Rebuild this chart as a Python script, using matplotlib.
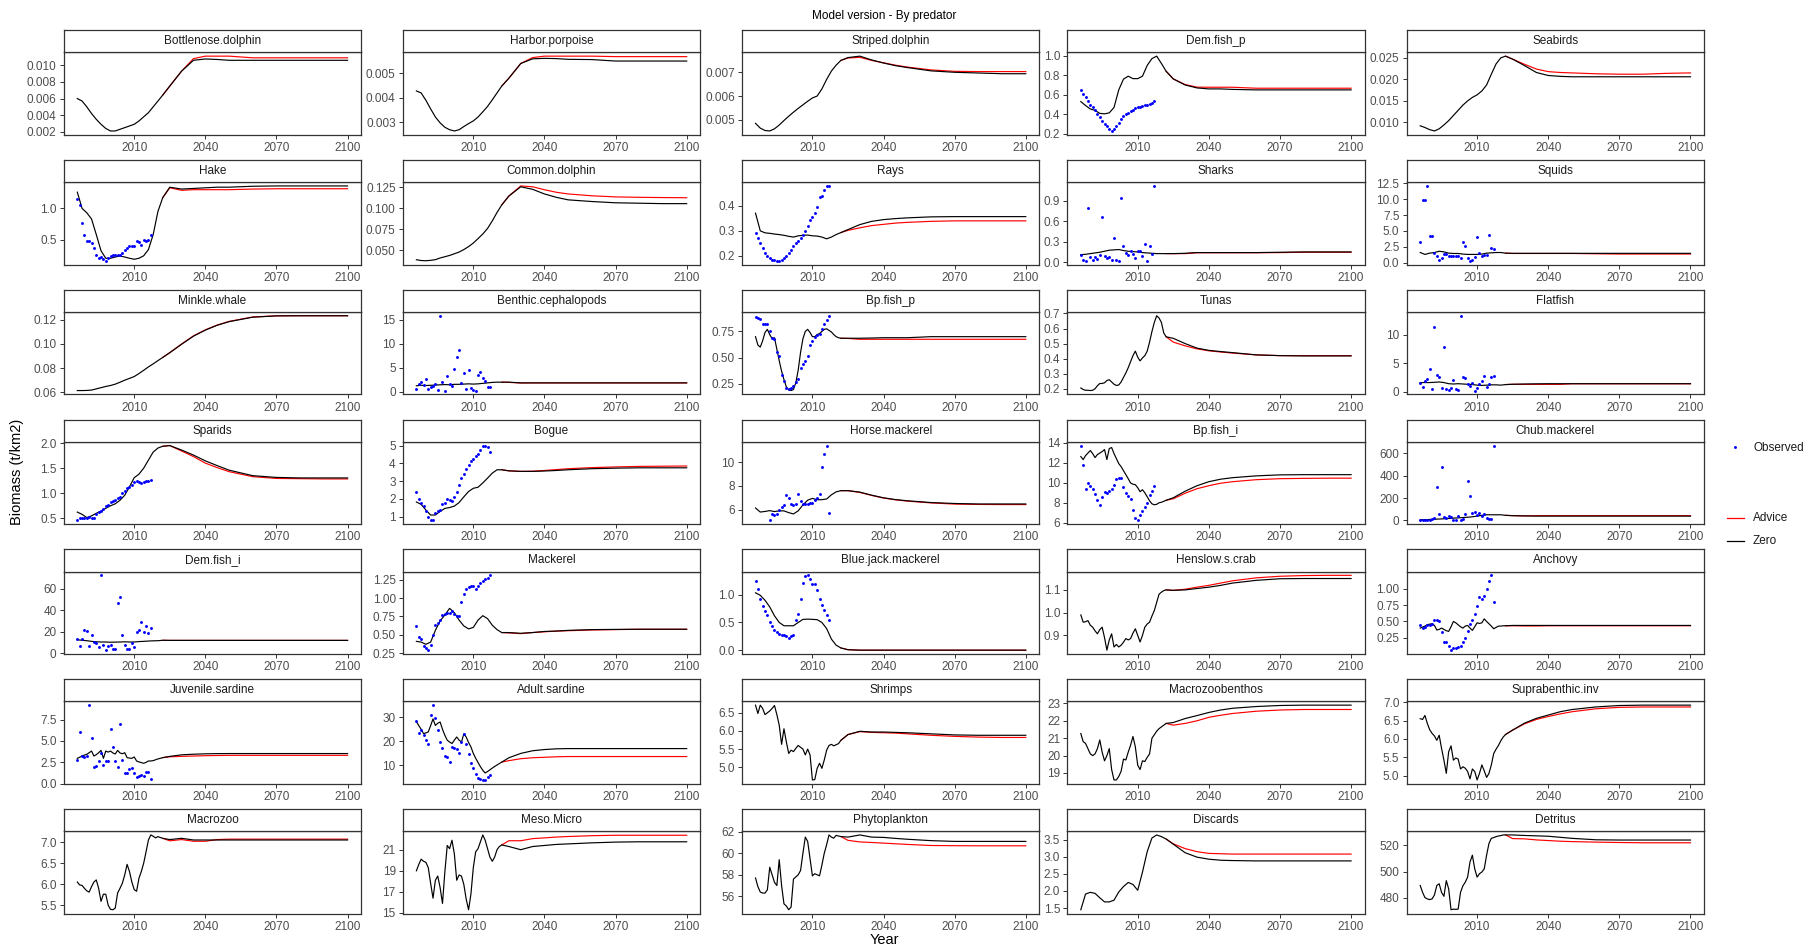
import matplotlib
matplotlib.use("Agg")
import matplotlib.pyplot as plt
from matplotlib.lines import Line2D

plt.rcParams["font.family"] = ["Liberation Sans", "DejaVu Sans"]

# ---------------------------------------------------------------- time axes
HIST_1 = list(range(1986, 2023))          # yearly model output
HIST_2 = list(range(1986, 2023, 2))       # two-yearly model output
PROJ = [2025, 2030, 2035, 2040, 2045, 2050, 2060, 2070, 2080, 2090, 2100]
OBS = list(range(1986, 2018))
OBS_HORSE = list(range(1992, 2018))
X_TICKS = [2010, 2040, 2070, 2100]

# ---------------------------------------------------------------- group data
bottlenose_hist = [0.0060, 0.0057, 0.0050, 0.0042, 0.0035, 0.0029, 0.0024, 0.0021, 0.0021, 0.0023,
                   0.0025, 0.0027, 0.0029, 0.0033, 0.0038, 0.0043, 0.0050, 0.0057, 0.0064]
bottlenose_zero = [0.0075, 0.0093, 0.0106, 0.01076, 0.0107, 0.0106, 0.0106, 0.0106, 0.0106, 0.0106, 0.0106]
bottlenose_advice = [0.0075, 0.0093, 0.0108, 0.0111, 0.0111, 0.0111, 0.0109, 0.0109, 0.0109, 0.0109, 0.0109]

harbor_hist = [0.00428, 0.00420, 0.00390, 0.00355, 0.00322, 0.00298, 0.00280, 0.00270, 0.00265, 0.00270,
               0.00283, 0.00295, 0.00306, 0.00322, 0.00343, 0.00365, 0.00392, 0.00420, 0.00448]
harbor_zero = [0.0048, 0.0054, 0.00559, 0.00561, 0.0056, 0.00557, 0.00556, 0.0055, 0.0055, 0.0055, 0.0055]
harbor_advice = [0.0048, 0.0054, 0.00564, 0.0057, 0.0057, 0.0057, 0.0057, 0.00568, 0.00568, 0.00568, 0.00568]

striped_hist = [0.00485, 0.00465, 0.00455, 0.00453, 0.00462, 0.00478, 0.00497, 0.00515, 0.00532, 0.00548,
                0.00563, 0.00578, 0.00592, 0.00600, 0.00630, 0.00670, 0.00705, 0.00730, 0.00750]
striped_zero = [0.00762, 0.00768, 0.00752, 0.00739, 0.00728, 0.0072, 0.00706, 0.0070, 0.00697, 0.00694, 0.00694]
striped_advice = [0.0076, 0.00763, 0.0075, 0.0074, 0.0073, 0.00722, 0.0071, 0.00704, 0.00703, 0.00703, 0.00703]

demp_hist = [0.53, 0.49, 0.455, 0.44, 0.41, 0.405, 0.415, 0.47, 0.65, 0.76, 0.79, 0.765, 0.765, 0.79,
             0.90, 0.97, 0.995, 0.92, 0.84]
demp_zero = [0.762, 0.70, 0.67, 0.66, 0.66, 0.655, 0.65, 0.65, 0.65, 0.65, 0.65]
demp_advice = [0.762, 0.705, 0.678, 0.677, 0.677, 0.677, 0.667, 0.667, 0.667, 0.667, 0.667]
demp_obs = [0.65, 0.61, 0.58, 0.54, 0.50, 0.48, 0.44, 0.40, 0.37, 0.33, 0.30, 0.28, 0.25, 0.23, 0.25, 0.28,
            0.31, 0.35, 0.38, 0.40, 0.41, 0.43, 0.44, 0.46, 0.47, 0.48, 0.49, 0.50, 0.50, 0.51, 0.52, 0.54]

seabirds_hist = [0.0092, 0.0088, 0.0083, 0.0080, 0.0085, 0.0094, 0.0104, 0.0116, 0.0128, 0.0140,
                 0.0150, 0.0158, 0.0164, 0.0173, 0.0187, 0.0212, 0.0236, 0.0250, 0.0254]
seabirds_zero = [0.0247, 0.0232, 0.0216, 0.0209, 0.0207, 0.0206, 0.0206, 0.0206, 0.0206, 0.0206, 0.0206]
seabirds_advice = [0.0247, 0.0235, 0.0224, 0.0218, 0.0216, 0.0215, 0.0213, 0.0212, 0.0212, 0.0214, 0.0215]

hake_hist = [1.26, 1.00, 0.93, 0.83, 0.58, 0.32, 0.20, 0.20, 0.22, 0.237, 0.22, 0.20, 0.184, 0.20,
             0.24, 0.34, 0.58, 0.95, 1.17]
hake_zero = [1.34, 1.31, 1.32, 1.33, 1.34, 1.34, 1.355, 1.36, 1.36, 1.36, 1.36]
hake_advice = [1.33, 1.29, 1.30, 1.30, 1.30, 1.30, 1.31, 1.315, 1.315, 1.315, 1.315]
hake_obs = [1.15, 1.05, 0.77, 0.58, 0.48, 0.48, 0.45, 0.37, 0.26, 0.21, 0.22, 0.19, 0.16, 0.20, 0.23, 0.25,
            0.26, 0.26, 0.25, 0.29, 0.33, 0.36, 0.39, 0.40, 0.40, 0.48, 0.46, 0.42, 0.49, 0.47, 0.50, 0.58]

common_hist = [0.0389, 0.0380, 0.0377, 0.0382, 0.0390, 0.0410, 0.0425, 0.0440, 0.0460, 0.0480,
               0.0510, 0.0545, 0.0587, 0.0640, 0.0695, 0.0760, 0.0850, 0.0950, 0.1040]
common_zero = [0.1145, 0.1255, 0.1225, 0.117, 0.113, 0.110, 0.108, 0.1065, 0.106, 0.1055, 0.1055]
common_advice = [0.1145, 0.1265, 0.1255, 0.122, 0.119, 0.117, 0.1148, 0.1135, 0.113, 0.1127, 0.1125]

rays_hist = [0.371, 0.300, 0.292, 0.290, 0.287, 0.285, 0.282, 0.278, 0.275, 0.280, 0.282, 0.283, 0.280,
             0.279, 0.275, 0.268, 0.275, 0.285, 0.293]
rays_zero = [0.305, 0.325, 0.338, 0.345, 0.349, 0.352, 0.356, 0.357, 0.357, 0.357, 0.357]
rays_advice = [0.302, 0.312, 0.321, 0.326, 0.331, 0.334, 0.338, 0.340, 0.340, 0.340, 0.340]
rays_obs = [0.29, 0.272, 0.25, 0.232, 0.212, 0.198, 0.19, 0.185, 0.182, 0.18, 0.18, 0.183, 0.19, 0.198,
            0.21, 0.225, 0.24, 0.25, 0.26, 0.27, 0.285, 0.30, 0.32, 0.345, 0.355, 0.37, 0.395, 0.435,
            0.44, 0.465, 0.48, 0.48]

sharks_hist = [0.11, 0.115, 0.125, 0.135, 0.145, 0.16, 0.175, 0.18, 0.185, 0.17, 0.16, 0.155, 0.15,
               0.14, 0.135, 0.13, 0.125, 0.125, 0.125]
sharks_zero = [0.125, 0.13, 0.14, 0.14, 0.14, 0.14, 0.14, 0.145, 0.15, 0.15, 0.15]
sharks_advice = [0.125, 0.125, 0.138, 0.138, 0.138, 0.138, 0.138, 0.14, 0.145, 0.145, 0.145]
sharks_obs = [0.10, 0.03, 0.02, 0.80, 0.08, 0.03, 0.07, 0.05, 0.10, 0.67, 0.09, 0.06, 0.07, 0.03, 0.36,
              0.03, 0.02, 0.94, 0.24, 0.14, 0.11, 0.16, 0.12, 0.06, 0.17, 0.16, 0.09, 0.27, 0.02, 0.23,
              0.12, 1.12]

squids_hist = [1.6, 1.3, 1.5, 1.6, 1.8, 1.7, 1.5, 1.45, 1.45, 1.35, 1.3, 1.3, 1.3, 1.35, 1.5, 1.55,
               1.6, 1.6, 1.5]
squids_zero = [1.47, 1.47, 1.47, 1.47, 1.47, 1.47, 1.47, 1.47, 1.47, 1.47, 1.47]
squids_advice = [1.45, 1.45, 1.45, 1.45, 1.45, 1.45, 1.40, 1.36, 1.36, 1.36, 1.36]
squids_obs = [3.2, 9.9, 9.9, 12.1, 4.2, 4.2, 1.6, 1.0, 0.4, 0.8, 1.3, 1.4, 1.1, 1.1, 1.1, 1.0, 1.0, 0.8,
              3.2, 2.6, 0.7, 0.3, 0.4, 0.9, 4.0, 1.5, 1.1, 1.2, 1.2, 4.3, 2.3, 2.2]

minke_hist = [0.0614, 0.0614, 0.0615, 0.0618, 0.0628, 0.0638, 0.0648, 0.0656, 0.0667, 0.0683, 0.0700,
              0.0715, 0.0730, 0.0755, 0.0782, 0.0810, 0.0835, 0.0862, 0.0888]
minke_zero = [0.0928, 0.0998, 0.1065, 0.1115, 0.1155, 0.1185, 0.1222, 0.1233, 0.1234, 0.1234, 0.1234]
minke_advice = [0.0928, 0.1000, 0.1067, 0.1117, 0.1157, 0.1187, 0.1224, 0.1233, 0.1234, 0.1234, 0.1234]

benthic_hist = [1.2, 1.3, 1.25, 1.3, 1.35, 1.4, 1.45, 1.4, 1.5, 1.5, 1.55, 1.6, 1.55, 1.6, 1.7, 1.8,
                1.9, 1.95, 1.95]
benthic_zero = [1.95, 1.8, 1.8, 1.8, 1.8, 1.8, 1.8, 1.8, 1.8, 1.8, 1.8]
benthic_advice = [1.9, 1.78, 1.8, 1.8, 1.8, 1.8, 1.8, 1.8, 1.8, 1.8, 1.8]
benthic_obs = [0.55, 1.6, 2.0, 1.45, 2.7, 0.55, 1.0, 1.1, 1.6, 0.35, 15.8, 2.0, 0.2, 3.3, 1.6, 1.1, 4.6,
               7.2, 8.6, 1.8, 3.9, 0.55, 4.4, 0.76, 0.35, 0.2, 3.5, 4.1, 2.8, 2.1, 0.9, 1.0]

bpp_hist = [0.70, 0.62, 0.60, 0.66, 0.74, 0.77, 0.72, 0.68, 0.69, 0.58, 0.47, 0.37, 0.29, 0.22, 0.19,
            0.185, 0.195, 0.26, 0.38, 0.55, 0.68, 0.75, 0.77, 0.74, 0.70, 0.70, 0.72, 0.73, 0.75, 0.77,
            0.775, 0.76, 0.745, 0.72, 0.70, 0.69, 0.685]
bpp_zero = [0.685, 0.685, 0.687, 0.69, 0.69, 0.69, 0.70, 0.70, 0.70, 0.70, 0.70]
bpp_advice = [0.683, 0.675, 0.675, 0.675, 0.675, 0.675, 0.675, 0.675, 0.675, 0.675, 0.675]
bpp_obs = [0.89, 0.88, 0.87, 0.82, 0.82, 0.82, 0.75, 0.69, 0.68, 0.55, 0.52, 0.33, 0.28, 0.21, 0.20,
           0.21, 0.23, 0.27, 0.30, 0.40, 0.44, 0.47, 0.52, 0.62, 0.66, 0.70, 0.72, 0.73, 0.77, 0.82,
           0.86, 0.90]

tunas_hist = [0.205, 0.195, 0.19, 0.19, 0.188, 0.19, 0.20, 0.22, 0.235, 0.235, 0.24, 0.255, 0.26,
              0.245, 0.23, 0.222, 0.225, 0.245, 0.275, 0.305, 0.34, 0.38, 0.42, 0.45, 0.41, 0.385,
              0.405, 0.42, 0.45, 0.51, 0.58, 0.64, 0.685, 0.67, 0.64, 0.57, 0.545]
tunas_zero = [0.535, 0.50, 0.47, 0.455, 0.447, 0.44, 0.425, 0.42, 0.418, 0.418, 0.418]
tunas_advice = [0.51, 0.485, 0.465, 0.452, 0.444, 0.437, 0.425, 0.42, 0.42, 0.42, 0.42]

flatfish_hist = [1.6, 1.6, 1.6, 1.65, 1.7, 1.6, 1.4, 1.35, 1.4, 1.35, 1.3, 1.25, 1.15, 1.1, 1.15, 1.2,
                 1.2, 1.15, 1.25]
flatfish_zero = [1.3, 1.35, 1.38, 1.4, 1.4, 1.4, 1.4, 1.4, 1.4, 1.4, 1.4]
flatfish_advice = [1.3, 1.28, 1.28, 1.28, 1.28, 1.39, 1.39, 1.39, 1.39, 1.39, 1.39]
flatfish_obs = [1.6, 0.9, 1.8, 2.2, 4.0, 0.5, 11.3, 3.0, 2.6, 0.6, 7.8, 0.5, 0.25, 0.6, 2.1, 0.5, 0.25,
                13.3, 2.5, 2.4, 1.3, 1.0, 1.5, 0.2, 0.6, 1.4, 1.8, 2.8, 0.8, 1.3, 2.5, 2.7]

sparids_hist = [0.625, 0.58, 0.515, 0.55, 0.60, 0.645, 0.70, 0.75, 0.79, 0.86, 0.96, 1.13, 1.31, 1.38,
                1.50, 1.66, 1.82, 1.90, 1.935]
sparids_zero = [1.95, 1.86, 1.76, 1.645, 1.55, 1.46, 1.35, 1.315, 1.305, 1.305, 1.305]
sparids_advice = [1.95, 1.84, 1.73, 1.60, 1.51, 1.43, 1.33, 1.295, 1.29, 1.285, 1.285]
sparids_obs = [0.46, 0.50, 0.51, 0.50, 0.50, 0.52, 0.51, 0.50, 0.59, 0.62, 0.65, 0.69, 0.74, 0.77, 0.83,
               0.85, 0.87, 0.90, 0.93, 1.00, 1.04, 1.10, 1.13, 1.17, 1.23, 1.24, 1.22, 1.21, 1.22, 1.24,
               1.25, 1.26]

bogue_hist = [1.83, 1.70, 1.38, 1.10, 1.10, 1.30, 1.47, 1.52, 1.60, 1.80, 2.12, 2.42, 2.60, 2.66, 2.90,
              3.17, 3.45, 3.64, 3.64]
bogue_zero = [3.58, 3.55, 3.55, 3.57, 3.60, 3.64, 3.70, 3.73, 3.75, 3.75, 3.75]
bogue_advice = [3.58, 3.55, 3.56, 3.60, 3.65, 3.70, 3.76, 3.80, 3.83, 3.84, 3.85]
bogue_obs = [2.4, 2.0, 1.75, 1.6, 1.3, 1.0, 0.8, 0.8, 1.2, 1.35, 1.4, 1.7, 1.8, 2.0, 1.95, 1.9, 2.1,
             2.4, 2.8, 3.2, 3.4, 3.7, 3.9, 4.15, 4.25, 4.4, 4.55, 4.75, 4.95, 5.0, 4.9, 4.65]

horse_hist = [6.14, 5.8, 5.85, 5.92, 5.84, 5.9, 5.9, 5.75, 5.64, 5.9, 6.4, 6.8, 6.95, 6.84, 6.84, 6.9,
              7.25, 7.5, 7.6]
horse_zero = [7.6, 7.48, 7.22, 7.0, 6.85, 6.75, 6.6, 6.52, 6.48, 6.48, 6.48]
horse_advice = [7.6, 7.45, 7.2, 6.98, 6.83, 6.72, 6.57, 6.47, 6.44, 6.43, 6.43]
horse_obs = [5.1, 5.6, 5.55, 5.6, 6.0, 6.2, 6.4, 7.2, 7.0, 6.5, 6.4, 6.5, 7.3, 6.7, 6.5, 6.5, 6.5, 6.55,
             6.6, 6.85, 7.0, 7.3, 9.6, 10.7, 11.4, 5.7]

bpi_hist = [12.6, 12.3, 12.7, 12.95, 13.2, 12.9, 12.5, 12.8, 12.95, 13.1, 13.3, 12.3, 13.4, 13.5, 12.9,
            12.4, 11.9, 11.6, 11.2, 10.8, 10.4, 9.97, 9.85, 9.8, 9.5, 9.1, 9.3, 9.0, 8.6, 8.2, 7.9, 7.8,
            7.85, 8.0, 8.05, 8.15, 8.25]
bpi_zero = [8.5, 9.15, 9.7, 10.1, 10.35, 10.5, 10.68, 10.78, 10.8, 10.8, 10.8]
bpi_advice = [8.4, 8.95, 9.4, 9.7, 9.95, 10.1, 10.3, 10.4, 10.43, 10.45, 10.45]
bpi_obs = [13.7, 11.8, 9.4, 10.0, 9.7, 9.4, 8.9, 8.3, 7.8, 8.6, 9.1, 9.0, 9.2, 9.4, 9.8, 10.35, 10.5,
           10.5, 9.6, 9.0, 8.65, 8.4, 7.3, 6.5, 6.25, 6.75, 7.2, 7.6, 8.0, 8.8, 9.2, 9.7]

chub_hist = [5, 6, 8, 10, 12, 14, 17, 20, 22, 25, 28, 32, 38, 45, 50, 50, 50, 50, 45]
chub_zero = [42, 40, 38, 38, 38, 38, 38, 38, 38, 38, 38]
chub_advice = [42, 40, 42, 42, 42, 42, 42, 42, 42, 42, 42]
chub_obs = [0, 0, 0, 0, 5, 10, 20, 300, 55, 475, 30, 20, 35, 30, 2, 2, 35, 2, 10, 55, 350, 215, 65, 75,
            50, 70, 40, 55, 20, 15, 15, 670]

demi_hist = [12.5, 12.0, 11.6, 11.0, 10.6, 10.4, 10.4, 10.2, 10.3, 10.4, 10.6, 10.4, 10.4, 10.8, 11.0,
             11.3, 11.5, 11.6, 12.0]
demi_zero = [11.9, 11.9, 11.9, 11.9, 11.9, 11.9, 11.9, 11.9, 11.9, 11.9, 11.9]
demi_advice = [11.9, 11.9, 11.9, 11.9, 11.9, 11.9, 11.9, 11.9, 11.9, 11.9, 11.9]
demi_obs = [13, 6.4, 13, 22, 20.5, 6.4, 17, 10, 9.5, 5.5, 72.5, 7.3, 2.8, 7, 7.3, 3.7, 4.3, 47, 52.5, 17,
            7.9, 4.3, 4.3, 9.2, 5.5, 20, 22, 29, 20, 25.5, 18.5, 23]

mackerel_hist = [0.41, 0.40, 0.37, 0.40, 0.56, 0.69, 0.77, 0.86, 0.80, 0.70, 0.62, 0.58, 0.60, 0.70,
                 0.76, 0.72, 0.63, 0.57, 0.53]
mackerel_zero = [0.53, 0.52, 0.53, 0.545, 0.55, 0.56, 0.57, 0.573, 0.575, 0.575, 0.575]
mackerel_advice = [0.525, 0.515, 0.53, 0.54, 0.55, 0.555, 0.565, 0.57, 0.575, 0.575, 0.575]
mackerel_obs = [0.62, 0.47, 0.44, 0.35, 0.32, 0.29, 0.36, 0.50, 0.63, 0.66, 0.70, 0.77, 0.78, 0.79,
                0.80, 0.82, 0.78, 0.76, 0.76, 0.95, 1.05, 1.12, 1.15, 1.17, 1.16, 1.13, 1.17, 1.20,
                1.23, 1.26, 1.27, 1.31]

bluejack_hist = [1.035, 0.99, 0.9, 0.78, 0.62, 0.5, 0.44, 0.44, 0.44, 0.5, 0.555, 0.56, 0.556, 0.55,
                 0.50, 0.39, 0.20, 0.09, 0.04]
bluejack_zero = [0.008, 0.0, 0.0, 0.0, 0.0, 0.0, 0.0, 0.0, 0.0, 0.0, 0.0]
bluejack_advice = [0.008, 0.0, 0.0, 0.0, 0.0, 0.0, 0.0, 0.0, 0.0, 0.0, 0.0]
bluejack_obs = [1.25, 1.10, 0.93, 0.80, 0.70, 0.64, 0.50, 0.43, 0.36, 0.33, 0.30, 0.28, 0.27, 0.25,
                0.22, 0.25, 0.27, 0.54, 0.66, 0.93, 1.22, 1.33, 1.35, 1.28, 1.20, 1.20, 1.08, 0.93,
                0.82, 0.72, 0.64, 0.54]

henslow_hist = [0.99, 0.958, 0.96, 0.965, 0.945, 0.936, 0.92, 0.907, 0.925, 0.936, 0.89, 0.835, 0.88,
                0.907, 0.849, 0.86, 0.849, 0.857, 0.87, 0.886, 0.88, 0.886, 0.91, 0.929, 0.90, 0.871,
                0.90, 0.936, 0.95, 0.958, 0.985, 1.009, 1.045, 1.081, 1.09, 1.097, 1.10]
henslow_zero = [1.098, 1.10, 1.106, 1.112, 1.12, 1.13, 1.142, 1.149, 1.15, 1.15, 1.15]
henslow_advice = [1.098, 1.103, 1.112, 1.12, 1.13, 1.14, 1.153, 1.16, 1.163, 1.164, 1.164]

anchovy_hist = [0.40, 0.415, 0.43, 0.45, 0.46, 0.465, 0.44, 0.37, 0.38, 0.40, 0.38, 0.36, 0.35, 0.42,
                0.50, 0.48, 0.45, 0.42, 0.40, 0.43, 0.44, 0.40, 0.365, 0.42, 0.48, 0.47, 0.48, 0.54,
                0.50, 0.465, 0.43, 0.39, 0.41, 0.43, 0.43, 0.435, 0.435]
anchovy_zero = [0.44, 0.44, 0.44, 0.44, 0.44, 0.44, 0.44, 0.44, 0.44, 0.44, 0.44]
anchovy_advice = [0.435, 0.432, 0.432, 0.435, 0.435, 0.435, 0.435, 0.435, 0.435, 0.435, 0.435]
anchovy_obs = [0.45, 0.40, 0.415, 0.44, 0.44, 0.465, 0.53, 0.52, 0.50, 0.34, 0.19, 0.19, 0.125, 0.065,
               0.10, 0.10, 0.115, 0.125, 0.19, 0.25, 0.355, 0.465, 0.515, 0.615, 0.74, 0.865, 0.84,
               0.88, 1.0, 1.115, 1.2, 0.79]

juvsard_hist = [2.97, 3.1, 3.24, 3.35, 3.44, 3.63, 3.82, 3.24, 3.4, 3.63, 3.9, 2.97, 3.82, 3.7, 3.82,
                3.6, 3.48, 3.9, 3.6, 3.51, 3.63, 3.05, 3.0, 2.97, 3.13, 2.66, 2.55, 2.47, 2.39, 2.5,
                2.66, 2.66, 2.7, 2.8, 2.9, 2.97, 3.05]
juvsard_zero = [3.2, 3.38, 3.45, 3.5, 3.52, 3.53, 3.53, 3.53, 3.53, 3.53, 3.53]
juvsard_advice = [3.15, 3.2, 3.24, 3.28, 3.3, 3.32, 3.32, 3.32, 3.32, 3.32, 3.32]
juvsard_obs = [2.8, 6.0, 3.3, 3.1, 3.2, 9.2, 5.4, 1.9, 2.1, 2.6, 3.6, 2.2, 2.6, 2.6, 6.4, 4.3, 2.7, 2.0,
               7.0, 2.8, 1.3, 1.3, 1.7, 1.8, 1.2, 0.8, 0.9, 1.0, 0.9, 1.4, 1.4, 0.5]

adsard_hist = [28.2, 26.5, 25.0, 23.2, 23.5, 23.9, 26.5, 29.3, 26.6, 27.5, 28.0, 25.0, 22.5, 20.5,
               19.7, 19.1, 20.5, 21.8, 20.5, 19.7, 23.1, 21.8, 19.5, 17.7, 15.0, 13.0, 11.2, 9.5, 8.0,
               6.9, 7.5, 8.2, 8.9, 9.6, 10.2, 10.8, 11.4]
adsard_zero = [13.2, 15.0, 16.1, 16.6, 16.9, 17.0, 17.0, 17.0, 17.0, 17.0, 17.0]
adsard_advice = [12.0, 12.8, 13.2, 13.4, 13.6, 13.7, 13.7, 13.7, 13.7, 13.7, 13.7]
adsard_obs = [28.5, 23.5, 24.6, 22.7, 20.4, 19.1, 31.1, 35.0, 29.6, 24.6, 19.7, 17.4, 14.0, 13.6, 11.6,
              17.7, 17.3, 17.0, 15.0, 19.7, 23.1, 19.1, 14.6, 10.9, 8.9, 6.5, 4.8, 4.4, 4.1, 4.0, 5.1,
              6.2]

shrimps_hist = [6.71, 6.48, 6.71, 6.62, 6.45, 6.50, 6.55, 6.62, 6.70, 6.45, 6.16, 5.63, 6.06, 5.70,
                5.38, 5.47, 5.43, 5.52, 5.60, 5.55, 5.50, 5.34, 5.50, 5.34, 4.65, 4.66, 4.97, 5.11,
                4.97, 5.20, 5.47, 5.60, 5.63, 5.59, 5.62, 5.65, 5.74]
shrimps_zero = [5.9, 5.99, 5.97, 5.97, 5.96, 5.95, 5.92, 5.89, 5.88, 5.88, 5.88]
shrimps_advice = [5.9, 5.98, 5.96, 5.95, 5.94, 5.92, 5.88, 5.85, 5.83, 5.82, 5.82]

mzb_hist = [21.27, 20.8, 20.7, 20.4, 20.1, 20.0, 20.1, 20.4, 20.9, 20.2, 19.7, 20.0, 20.4, 19.2, 18.6,
            18.6, 18.8, 19.1, 19.8, 19.75, 20.2, 20.6, 21.1, 20.5, 19.45, 19.2, 19.7, 19.66, 19.9,
            20.1, 21.0, 21.2, 21.4, 21.55, 21.65, 21.75, 21.85]
mzb_zero = [21.9, 22.13, 22.3, 22.48, 22.62, 22.72, 22.82, 22.88, 22.9, 22.9, 22.9]
mzb_advice = [21.75, 21.85, 22.0, 22.2, 22.32, 22.42, 22.55, 22.62, 22.65, 22.65, 22.65]

supra_hist = [6.55, 6.53, 6.64, 6.42, 6.25, 6.15, 6.08, 5.96, 6.1, 5.74, 5.42, 5.06, 5.65, 5.81, 5.42,
              5.48, 5.45, 5.18, 5.24, 5.2, 5.11, 4.91, 5.18, 5.11, 4.88, 5.06, 5.29, 5.13, 4.95, 5.06,
              5.29, 5.6, 5.72, 5.82, 5.95, 6.05, 6.12]
supra_zero = [6.24, 6.43, 6.56, 6.65, 6.74, 6.8, 6.87, 6.91, 6.92, 6.92, 6.92]
supra_advice = [6.24, 6.41, 6.53, 6.61, 6.68, 6.74, 6.82, 6.86, 6.87, 6.87, 6.87]

macrozoo_hist = [6.05, 5.98, 5.97, 5.9, 5.84, 5.81, 5.94, 6.05, 6.1, 5.9, 5.59, 5.76, 5.76, 5.5, 5.4,
                 5.39, 5.43, 5.79, 5.9, 6.02, 6.22, 6.47, 6.3, 6.05, 5.87, 5.83, 6.14, 6.3, 6.5, 6.77,
                 7.05, 7.17, 7.14, 7.1, 7.13, 7.11, 7.09]
macrozoo_zero = [7.06, 7.09, 7.05, 7.05, 7.05, 7.05, 7.05, 7.05, 7.05, 7.05, 7.05]
macrozoo_advice = [7.03, 7.06, 7.02, 7.02, 7.06, 7.07, 7.07, 7.07, 7.07, 7.07, 7.07]

meso_hist = [19.0, 19.6, 20.1, 19.9, 19.8, 19.3, 17.8, 16.4, 18.1, 18.5, 17.4, 15.9, 18.9, 21.4, 21.1,
             21.9, 20.6, 18.1, 18.6, 18.5, 17.7, 16.3, 15.3, 16.8, 19.3, 20.8, 21.1, 21.75, 22.4, 21.9,
             21.1, 20.3, 19.9, 20.3, 21.0, 21.3, 21.45]
meso_zero = [21.3, 21.0, 21.3, 21.4, 21.5, 21.55, 21.65, 21.72, 21.75, 21.75, 21.75]
meso_advice = [21.85, 21.85, 22.05, 22.12, 22.2, 22.25, 22.33, 22.37, 22.37, 22.37, 22.37]

phyto_hist = [57.7, 56.9, 56.4, 56.3, 56.3, 56.6, 58.7, 58.0, 57.3, 57.0, 59.4, 57.0, 55.3, 55.1, 54.75,
              55.0, 57.6, 57.8, 58.0, 58.4, 60.0, 61.5, 61.1, 59.5, 57.9, 58.1, 58.0, 57.9, 58.9, 60.0,
              60.8, 61.7, 61.5, 61.4, 61.66, 61.6, 61.55]
phyto_zero = [61.5, 61.7, 61.5, 61.47, 61.38, 61.3, 61.17, 61.1, 61.1, 61.1, 61.1]
phyto_advice = [61.2, 61.05, 61.0, 60.94, 60.88, 60.82, 60.72, 60.7, 60.69, 60.69, 60.69]

discards_hist = [1.45, 1.91, 1.96, 1.93, 1.80, 1.68, 1.68, 1.73, 1.97, 2.13, 2.25, 2.19, 2.02, 2.55,
                 3.15, 3.55, 3.64, 3.59, 3.52]
discards_zero = [3.37, 3.12, 2.99, 2.93, 2.90, 2.89, 2.88, 2.88, 2.88, 2.88, 2.88]
discards_advice = [3.38, 3.24, 3.15, 3.10, 3.09, 3.08, 3.08, 3.08, 3.08, 3.08, 3.08]

detritus_hist = [489.3, 484.0, 480.0, 479.0, 478.5, 479.0, 482.0, 489.3, 490.6, 484.0, 481.0, 493.0,
                 486.7, 470.7, 471.2, 471.0, 471.2, 484.0, 489.0, 491.8, 495.7, 507.3, 512.5, 502.0,
                 495.7, 498.3, 499.6, 502.0, 512.5, 521.5, 525.4, 526.0, 526.7, 527.2, 527.5, 528.0,
                 528.0]
detritus_zero = [528.0, 527.6, 527.3, 527.0, 526.2, 525.4, 524.3, 524.1, 524.1, 524.1, 524.1]
detritus_advice = [525.2, 525.0, 524.2, 523.7, 523.2, 522.9, 522.5, 522.2, 522.0, 522.0, 522.0]

# name, model years, model history, zero, advice, obs years, obs, y ticks, tick decimals
PANELS = [
    ("Bottlenose.dolphin", HIST_2, bottlenose_hist, bottlenose_zero, bottlenose_advice, None, None,
     [0.002, 0.004, 0.006, 0.008, 0.010], 3),
    ("Harbor.porpoise", HIST_2, harbor_hist, harbor_zero, harbor_advice, None, None,
     [0.003, 0.004, 0.005], 3),
    ("Striped.dolphin", HIST_2, striped_hist, striped_zero, striped_advice, None, None,
     [0.005, 0.006, 0.007], 3),
    ("Dem.fish_p", HIST_2, demp_hist, demp_zero, demp_advice, OBS, demp_obs,
     [0.2, 0.4, 0.6, 0.8, 1.0], 1),
    ("Seabirds", HIST_2, seabirds_hist, seabirds_zero, seabirds_advice, None, None,
     [0.010, 0.015, 0.020, 0.025], 3),
    ("Hake", HIST_2, hake_hist, hake_zero, hake_advice, OBS, hake_obs, [0.5, 1.0], 1),
    ("Common.dolphin", HIST_2, common_hist, common_zero, common_advice, None, None,
     [0.050, 0.075, 0.100, 0.125], 3),
    ("Rays", HIST_2, rays_hist, rays_zero, rays_advice, OBS, rays_obs, [0.2, 0.3, 0.4], 1),
    ("Sharks", HIST_2, sharks_hist, sharks_zero, sharks_advice, OBS, sharks_obs, [0.0, 0.3, 0.6, 0.9], 1),
    ("Squids", HIST_2, squids_hist, squids_zero, squids_advice, OBS, squids_obs,
     [0.0, 2.5, 5.0, 7.5, 10.0, 12.5], 1),
    ("Minkle.whale", HIST_2, minke_hist, minke_zero, minke_advice, None, None,
     [0.06, 0.08, 0.10, 0.12], 2),
    ("Benthic.cephalopods", HIST_2, benthic_hist, benthic_zero, benthic_advice, OBS, benthic_obs,
     [0, 5, 10, 15], 0),
    ("Bp.fish_p", HIST_1, bpp_hist, bpp_zero, bpp_advice, OBS, bpp_obs, [0.25, 0.50, 0.75], 2),
    ("Tunas", HIST_1, tunas_hist, tunas_zero, tunas_advice, None, None,
     [0.2, 0.3, 0.4, 0.5, 0.6, 0.7], 1),
    ("Flatfish", HIST_2, flatfish_hist, flatfish_zero, flatfish_advice, OBS, flatfish_obs, [0, 5, 10], 0),
    ("Sparids", HIST_2, sparids_hist, sparids_zero, sparids_advice, OBS, sparids_obs,
     [0.5, 1.0, 1.5, 2.0], 1),
    ("Bogue", HIST_2, bogue_hist, bogue_zero, bogue_advice, OBS, bogue_obs, [1, 2, 3, 4, 5], 0),
    ("Horse.mackerel", HIST_2, horse_hist, horse_zero, horse_advice, OBS_HORSE, horse_obs, [6, 8, 10], 0),
    ("Bp.fish_i", HIST_1, bpi_hist, bpi_zero, bpi_advice, OBS, bpi_obs, [6, 8, 10, 12, 14], 0),
    ("Chub.mackerel", HIST_2, chub_hist, chub_zero, chub_advice, OBS, chub_obs, [0, 200, 400, 600], 0),
    ("Dem.fish_i", HIST_2, demi_hist, demi_zero, demi_advice, OBS, demi_obs, [0, 20, 40, 60], 0),
    ("Mackerel", HIST_2, mackerel_hist, mackerel_zero, mackerel_advice, OBS, mackerel_obs,
     [0.25, 0.50, 0.75, 1.00, 1.25], 2),
    ("Blue.jack.mackerel", HIST_2, bluejack_hist, bluejack_zero, bluejack_advice, OBS, bluejack_obs,
     [0.0, 0.5, 1.0], 1),
    ("Henslow.s.crab", HIST_1, henslow_hist, henslow_zero, henslow_advice, None, None,
     [0.9, 1.0, 1.1], 1),
    ("Anchovy", HIST_1, anchovy_hist, anchovy_zero, anchovy_advice, OBS, anchovy_obs,
     [0.25, 0.50, 0.75, 1.00], 2),
    ("Juvenile.sardine", HIST_1, juvsard_hist, juvsard_zero, juvsard_advice, OBS, juvsard_obs,
     [0.0, 2.5, 5.0, 7.5], 1),
    ("Adult.sardine", HIST_1, adsard_hist, adsard_zero, adsard_advice, OBS, adsard_obs, [10, 20, 30], 0),
    ("Shrimps", HIST_1, shrimps_hist, shrimps_zero, shrimps_advice, None, None,
     [5.0, 5.5, 6.0, 6.5], 1),
    ("Macrozoobenthos", HIST_1, mzb_hist, mzb_zero, mzb_advice, None, None, [19, 20, 21, 22, 23], 0),
    ("Suprabenthic.inv", HIST_1, supra_hist, supra_zero, supra_advice, None, None,
     [5.0, 5.5, 6.0, 6.5, 7.0], 1),
    ("Macrozoo", HIST_1, macrozoo_hist, macrozoo_zero, macrozoo_advice, None, None,
     [5.5, 6.0, 6.5, 7.0], 1),
    ("Meso.Micro", HIST_1, meso_hist, meso_zero, meso_advice, None, None, [15, 17, 19, 21], 0),
    ("Phytoplankton", HIST_1, phyto_hist, phyto_zero, phyto_advice, None, None, [56, 58, 60, 62], 0),
    ("Discards", HIST_2, discards_hist, discards_zero, discards_advice, None, None,
     [1.5, 2.0, 2.5, 3.0, 3.5], 1),
    ("Detritus", HIST_1, detritus_hist, detritus_zero, detritus_advice, None, None, [480, 500, 520], 0),
]

# ---------------------------------------------------------------- layout (pixels)
W, H = 1805, 948
COL_LEFT = [63.8, 402.9, 742.0, 1067.3, 1406.7]
PANEL_W = 297.3
STRIP_TOP0 = 30.1
ROW_STEP = 129.8
STRIP_H = 22.3
PANEL_H = 82.3

EDGE = "#333333"
TICK_TXT = "#4d4d4d"
ZERO_C = "black"
ADVICE_C = "#ff0000"
OBS_C = "#0000ff"
FS = 8.5

fig = plt.figure(figsize=(W / 100, H / 100), dpi=100)
fig.patch.set_facecolor("white")

x_lo, x_hi = 1986, 2100
x_pad = 0.05 * (x_hi - x_lo)

for i, (name, hyears, hist, zero, advice, oyears, obs, yticks, dec) in enumerate(PANELS):
    r, c = divmod(i, 5)
    x0 = COL_LEFT[c]
    s_top = STRIP_TOP0 + ROW_STEP * r
    s_bot = s_top + STRIP_H
    p_bot = s_bot + PANEL_H

    ax = fig.add_axes([x0 / W, 1 - p_bot / H, PANEL_W / W, PANEL_H / H])
    sax = fig.add_axes([x0 / W, 1 - s_bot / H, PANEL_W / W, STRIP_H / H])

    last_year = hyears[-1]
    ax.plot([last_year] + PROJ, [hist[-1]] + advice, color=ADVICE_C, lw=0.85, zorder=2,
            solid_joinstyle="round")
    ax.plot(hyears + PROJ, hist + zero, color=ZERO_C, lw=0.85, zorder=3, solid_joinstyle="round")
    vals = hist + zero + advice
    if obs is not None:
        ax.plot(oyears, obs, linestyle="none", marker="o", ms=2.1, mew=0, color=OBS_C, zorder=4)
        vals = vals + obs

    lo, hi = min(vals), max(vals)
    pad = 0.05 * (hi - lo)
    ax.set_ylim(lo - pad, hi + pad)
    ax.set_xlim(x_lo - x_pad, x_hi + x_pad)

    ax.set_xticks(X_TICKS)
    ax.set_xticklabels([str(t) for t in X_TICKS])
    ax.set_yticks(yticks)
    ax.set_yticklabels([f"{t:.{dec}f}" for t in yticks])
    ax.tick_params(direction="out", length=3.2, width=0.7, color=EDGE, labelsize=FS,
                   labelcolor=TICK_TXT, pad=2)
    for sp in ax.spines.values():
        sp.set_color(EDGE)
        sp.set_linewidth(0.9)

    sax.set_xticks([])
    sax.set_yticks([])
    sax.set_facecolor("white")
    for sp in sax.spines.values():
        sp.set_color(EDGE)
        sp.set_linewidth(0.9)
    sax.text(0.5, 0.5, name, ha="center", va="center", fontsize=FS, color="#1a1a1a",
             transform=sax.transAxes)

# ---------------------------------------------------------------- titles
fig.text(884 / W, 1 - 16.5 / H, "Model version - By predator", ha="center", va="center",
         fontsize=FS, color="black")
fig.text(884 / W, 1 - 940 / H, "Year", ha="center", va="center", fontsize=10.5, color="black")
fig.text(17 / W, 1 - 472 / H, "Biomass (t/km2)", ha="center", va="center", rotation=90,
         fontsize=10.5, color="black")

# ---------------------------------------------------------------- legend
fig.add_artist(Line2D([1735 / W], [1 - 447 / H], transform=fig.transFigure, linestyle="none",
                      marker="o", ms=2.1, mew=0, color=OBS_C))
fig.text(1753 / W, 1 - 448 / H, "Observed", ha="left", va="center", fontsize=FS, color="#1a1a1a")
fig.add_artist(Line2D([1727 / W, 1744 / W], [1 - 518 / H, 1 - 518 / H], transform=fig.transFigure,
                      color=ADVICE_C, lw=0.9))
fig.text(1753 / W, 1 - 518 / H, "Advice", ha="left", va="center", fontsize=FS, color="#1a1a1a")
fig.add_artist(Line2D([1727 / W, 1744 / W], [1 - 541 / H, 1 - 541 / H], transform=fig.transFigure,
                      color=ZERO_C, lw=0.9))
fig.text(1753 / W, 1 - 541 / H, "Zero", ha="left", va="center", fontsize=FS, color="#1a1a1a")

fig.savefig("out.png", dpi=100, facecolor="white")
